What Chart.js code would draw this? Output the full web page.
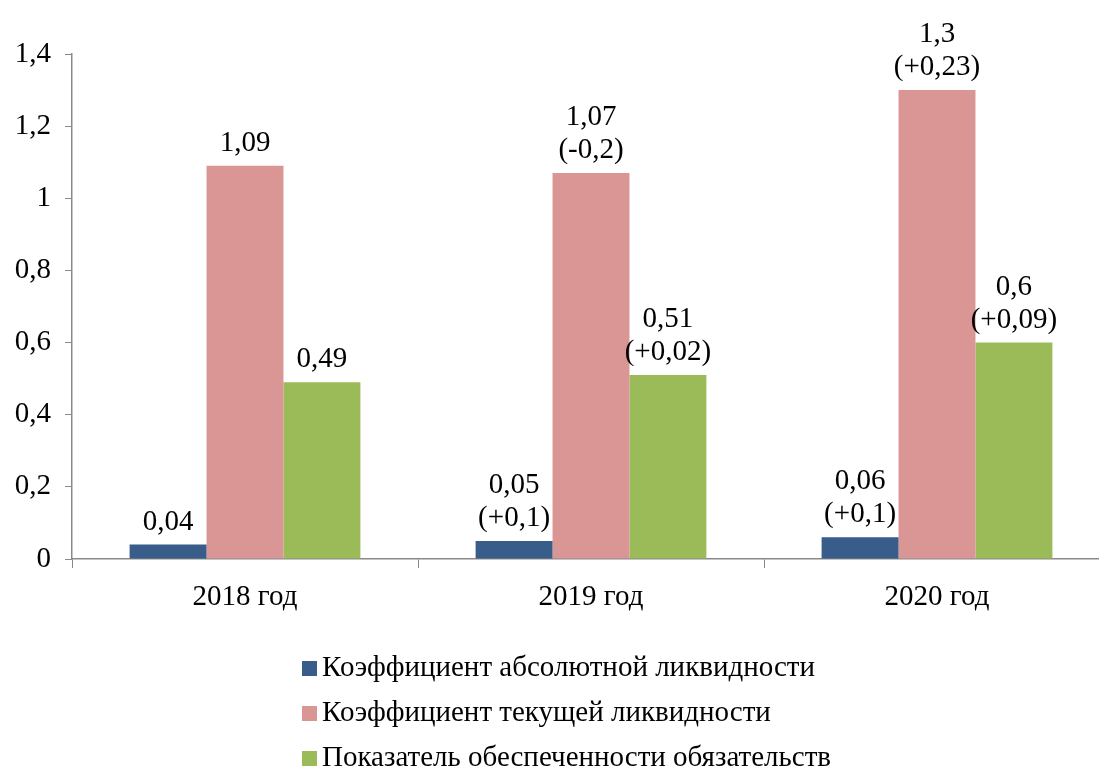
<!DOCTYPE html>
<html lang="ru">
<head>
<meta charset="utf-8">
<script src="https://cdn.jsdelivr.net/npm/chart.js@4.4.1/dist/chart.umd.min.js"></script>
<style>
  html, body { margin: 0; padding: 0; background: #fff; overflow: hidden; }
  #wrap { width: 1112px; height: 772px; }
</style>
</head>
<body>
<div id="wrap"><canvas id="barChart"></canvas></div>
<script>
const years = ['2018 год', '2019 год', '2020 год'];
const absLiquidity = [0.04, 0.05, 0.06];
const curLiquidity = [1.09, 1.07, 1.3];
const coverage = [0.49, 0.51, 0.6];
// changes vs previous year, shown under the value
const absChange = [null, '+0,1', '+0,1'];
const curChange = [null, '-0,2', '+0,23'];
const covChange = [null, '+0,02', '+0,09'];
const seriesNames = [
    'Коэффициент абсолютной ликвидности',
    'Коэффициент текущей ликвидности',
    'Показатель обеспеченности обязательств'
];
const yTicks = [0, 0.2, 0.4, 0.6, 0.8, 1, 1.2, 1.4];

const FONT = "'Liberation Serif', 'Times New Roman', serif";
const fmt = v => String(v).replace('.', ',');

const valueLabels = {
    id: 'valueLabels',
    afterDatasetsDraw(chart) {
        const ctx = chart.ctx;
        ctx.save();
        ctx.font = '29px ' + FONT;
        ctx.fillStyle = '#000';
        ctx.textAlign = 'center';
        ctx.textBaseline = 'bottom';
        chart.data.datasets.forEach((ds, i) => {
            chart.getDatasetMeta(i).data.forEach((bar, j) => {
                const lines = [fmt(ds.data[j])];
                if (ds.changes[j]) lines.push('(' + ds.changes[j] + ')');
                let y = bar.y - 8;
                for (let k = lines.length - 1; k >= 0; k--) {
                    ctx.fillText(lines[k], bar.x, y);
                    y -= 33;
                }
            });
        });
        ctx.restore();
    }
};

const sideLegend = {
    id: 'sideLegend',
    afterDraw(chart) {
        const ctx = chart.ctx;
        ctx.save();
        ctx.font = '29px ' + FONT;
        ctx.textBaseline = 'middle';
        chart.data.datasets.forEach((ds, i) => {
            const y = 668 + i * 45;
            ctx.fillStyle = ds.backgroundColor;
            ctx.fillRect(302, y - 7, 15, 15);
            ctx.fillStyle = '#000';
            ctx.fillText(ds.label, 322, y);
        });
        ctx.restore();
    }
};

const ctx = document.getElementById('barChart').getContext('2d');

new Chart(ctx, {
    type: 'bar',
    data: {
        labels: years,
        datasets: [
            { label: seriesNames[0], data: absLiquidity, changes: absChange, backgroundColor: '#385D8A' },
            { label: seriesNames[1], data: curLiquidity, changes: curChange, backgroundColor: '#D99694' },
            { label: seriesNames[2], data: coverage, changes: covChange, backgroundColor: '#9BBB59' }
        ]
    },
    options: {
        responsive: true,
        maintainAspectRatio: false,
        animation: false,
        categoryPercentage: 0.667,
        barPercentage: 1,
        layout: { padding: { top: 54, right: 2, bottom: 143, left: 0 } },
        scales: {
            x: {
                grid: {
                    display: true,
                    drawOnChartArea: false,
                    offset: true,
                    tickLength: 9,
                    color: '#898989'
                },
                border: { color: '#898989', width: 1.5 },
                ticks: { color: '#000', font: { family: FONT, size: 29 }, padding: 12 },
                afterFit(s) { s.height = 70; }
            },
            y: {
                min: 0,
                max: 1.4,
                afterBuildTicks(s) { s.ticks = yTicks.map(v => ({ value: v })); },
                grid: {
                    display: true,
                    drawOnChartArea: false,
                    tickLength: 7,
                    color: '#898989'
                },
                border: { color: '#898989', width: 1.5 },
                ticks: {
                    color: '#000',
                    font: { family: FONT, size: 29 },
                    padding: 14,
                    callback: v => fmt(Math.round(v * 10) / 10)
                },
                afterFit(s) { s.width = 72; }
            }
        },
        plugins: {
            legend: { display: false },
            tooltip: { enabled: false }
        }
    },
    plugins: [valueLabels, sideLegend]
});
</script>
</body>
</html>
